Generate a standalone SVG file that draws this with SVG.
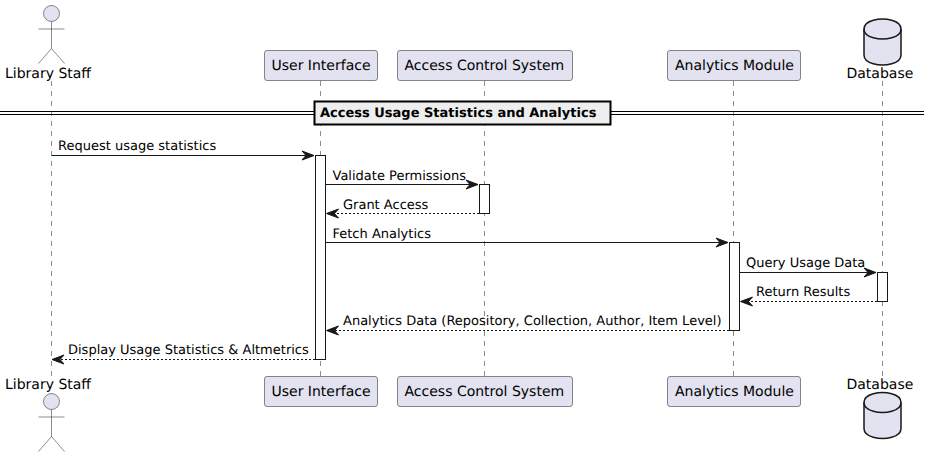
<svg xmlns="http://www.w3.org/2000/svg" width="929" height="457" viewBox="0 0 929 457">
<style>
text{font-family:"DejaVu Sans",sans-serif;font-size:13px;fill:#000;text-rendering:geometricPrecision}
.n{font-size:14px}
.life{stroke:#181818;stroke-width:.5;stroke-dasharray:5 5;fill:none}
.box{fill:#E2E2F0;stroke:#181818;stroke-width:.5}
.act{fill:#fff;stroke:#181818;stroke-width:1}
.actor{fill:none;stroke:#181818;stroke-width:.5}
.db{fill:#E2E2F0;stroke:#181818;stroke-width:1.5}
.msg{stroke:#181818;stroke-width:1;fill:none}
.dash{stroke-dasharray:2 2}
.head{fill:#181818;stroke:#181818;stroke-width:1}
</style>
<defs>
<g id="cyl"><path class="db" d="M864 29C864 19 882.5 19 882.5 19C882.5 19 901 19 901 29V55C901 65 882.5 65 882.5 65C882.5 65 864 65 864 55Z"/><path class="db" style="fill:none" d="M864 29C864 39 882.5 39 882.5 39C882.5 39 901 39 901 29"/></g>
<g id="man"><circle cx="51.5" cy="13.5" r="8" fill="#E2E2F0" stroke="#181818" stroke-width=".5"/><path class="actor" d="M51.5 21.5V48.5M38.5 29H64.5M51.5 48.5L38.5 63.5M51.5 48.5L64.5 63.5"/></g>
<path id="ah-r" class="head" d="M0 0L-12 -4.500L-8 0L-12 4.500Z"/>
</defs>
<g id="lifelines">
<path class="life" d="M51.5 81V376M320.5 81V376M484.5 81V376M733.5 81V376M882.5 81V376"/>
</g>
<g id="divider">
<path d="M0 111.500H924M0 114.500H924" stroke="#000" stroke-width="1"/>
<rect x="314.500" y="101.500" width="296" height="23" fill="#EEEEEE" stroke="#000" stroke-width="2"/>
<text x="320" y="117" style="font-weight:700">Access Usage Statistics and Analytics</text>
</g>
<g id="activations">
<rect class="act" x="315.500" y="155.500" width="10" height="204"/>
<rect class="act" x="479.500" y="184.500" width="10" height="29"/>
<rect class="act" x="729.500" y="242.500" width="10" height="88"/>
<rect class="act" x="877.500" y="272.500" width="10" height="29"/>
</g>
<g id="connectors">
<path class="msg" d="M51.5 155.500H314"/><use href="#ah-r" x="314" y="155.500"/>
<text x="58" y="150">Request usage statistics</text>
<path class="msg" d="M325.500 184.500H478"/><use href="#ah-r" x="478" y="184.500"/>
<text x="332.500" y="180">Validate Permissions</text>
<path class="msg dash" d="M479 213.500H327"/><use href="#ah-r" transform="translate(326.500 213.500) scale(-1 1)"/>
<text x="343" y="209">Grant Access</text>
<path class="msg" d="M325.500 242.500H728"/><use href="#ah-r" x="728" y="242.500"/>
<text x="332.500" y="238">Fetch Analytics</text>
<path class="msg" d="M739.500 272.500H876"/><use href="#ah-r" x="876" y="272.500"/>
<text x="746" y="267">Query Usage Data</text>
<path class="msg dash" d="M877 301.500H741"/><use href="#ah-r" transform="translate(740.500 301.500) scale(-1 1)"/>
<text x="756" y="296">Return Results</text>
<path class="msg dash" d="M729 330.500H327"/><use href="#ah-r" transform="translate(326.500 330.500) scale(-1 1)"/>
<text x="343" y="325">Analytics Data (Repository, Collection, Author, Item Level)</text>
<path class="msg dash" d="M315 359.500H53"/><use href="#ah-r" transform="translate(52 359.500) scale(-1 1)"/>
<text x="68" y="354">Display Usage Statistics &amp; Altmetrics</text>
</g>
<g id="library-staff">
<use href="#man"/><text class="n" x="5" y="78">Library Staff</text>
<use href="#man" y="388"/><text class="n" x="5" y="389">Library Staff</text>
</g>
<g id="user-interface">
<rect class="box" x="264.500" y="50.500" width="113" height="30" rx="2.500"/><text class="n" x="271.500" y="70">User Interface</text>
<rect class="box" x="264.500" y="376.500" width="113" height="30" rx="2.500"/><text class="n" x="271.500" y="396">User Interface</text>
</g>
<g id="access-control-system">
<rect class="box" x="397.500" y="50.500" width="175" height="30" rx="2.500"/><text class="n" x="404.500" y="70">Access Control System</text>
<rect class="box" x="397.500" y="376.500" width="175" height="30" rx="2.500"/><text class="n" x="404.500" y="396">Access Control System</text>
</g>
<g id="analytics-module">
<rect class="box" x="667.500" y="50.500" width="133" height="30" rx="2.500"/><text class="n" x="675" y="70">Analytics Module</text>
<rect class="box" x="667.500" y="376.500" width="133" height="30" rx="2.500"/><text class="n" x="675" y="396">Analytics Module</text>
</g>
<g id="database">
<use href="#cyl"/><text class="n" x="846.500" y="78">Database</text>
<use href="#cyl" y="373.500"/><text class="n" x="846.500" y="389">Database</text>
</g>
</svg>
